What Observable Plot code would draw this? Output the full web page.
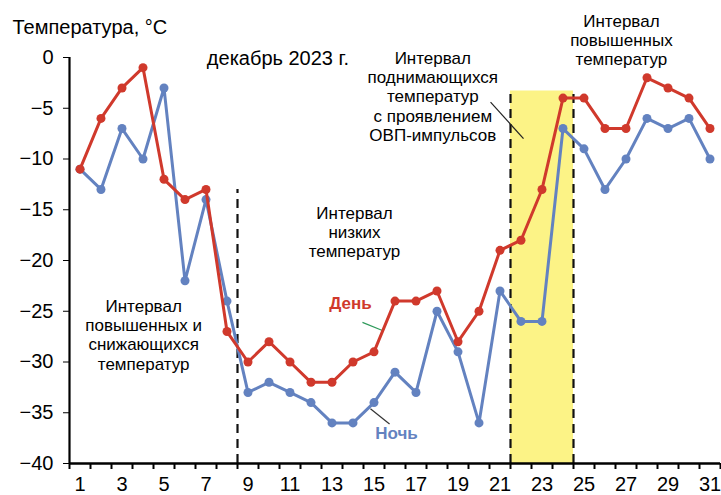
<!DOCTYPE html>
<html>
<head>
<meta charset="utf-8">
<script src="https://cdn.jsdelivr.net/npm/d3@7"></script>
<script src="https://cdn.jsdelivr.net/npm/@observablehq/plot@0.6"></script>
<style>
  html, body { margin: 0; padding: 0; background: #fff; }
  #chart svg { display: block; font-family: "Liberation Sans", Arial, sans-serif; }
</style>
</head>
<body>
<div id="chart"></div>
<script>
// Дни декабря 2023 г.
const days = d3.range(1, 32);

// Дневная температура, °C
const dayTemps = [-11, -6, -3, -1, -12, -14, -13, -27, -30, -28, -30, -32, -32, -30, -29, -24,
                  -24, -23, -28, -25, -19, -18, -13, -4, -4, -7, -7, -2, -3, -4, -7];

// Ночная температура, °C
const nightTemps = [-11, -13, -7, -10, -3, -22, -14, -24, -33, -32, -33, -34, -36, -36, -34, -31,
                    -33, -25, -29, -36, -23, -26, -26, -7, -9, -13, -10, -6, -7, -6, -10];

// Подписи осей
const xTickLabels = d3.range(1, 32, 2);
const yTicks = [0, -5, -10, -15, -20, -25, -30, -35, -40];

// Границы интервалов (между днями)
const boundaries = [
  {x: 8.5, top: -13},
  {x: 21.5, top: -3.3},
  {x: 24.5, top: -3.3}
];
const ovpBand = [{x1: 21.5, x2: 24.5, top: -3.3}];

const dayRows = days.map((d, i) => ({day: d, t: dayTemps[i]}));
const nightRows = days.map((d, i) => ({day: d, t: nightTemps[i]}));

const RED = "#d0392c";
const BLUE = "#6382c0";
const FONT = "Liberation Sans, Arial, sans-serif";

const chart = Plot.plot({
  width: 721,
  height: 495,
  marginLeft: 69,
  marginRight: 1,
  marginTop: 57,
  marginBottom: 32,
  style: {fontFamily: FONT, color: "#000", background: "#fff"},
  x: {domain: [0.5, 31.5]},
  y: {domain: [-40, 0]},
  marks: [
    // Интервал с ОВП-импульсами
    Plot.rectY(ovpBand, {x1: "x1", x2: "x2", y1: -40, y2: "top", fill: "#fcf386"}),
    // Пунктирные границы интервалов
    Plot.ruleX(boundaries, {x: "x", y1: -40, y2: "top", stroke: "#111", strokeWidth: 2.2, strokeDasharray: "9,6"}),

    // Оси
    Plot.axisY({ticks: yTicks, tickSize: 6, tickPadding: 10, fontSize: 20, label: null, stroke: "#000"}),
    Plot.axisX({ticks: d3.range(0.5, 32, 1), tickSize: 6, tickFormat: () => "", label: null, strokeWidth: 2}),
    Plot.axisX({ticks: xTickLabels, tickSize: 0, tickPadding: 13, fontSize: 20, label: null}),
    Plot.ruleX([0.5], {stroke: "#000", strokeWidth: 2.2}),
    Plot.ruleY([-40], {stroke: "#000", strokeWidth: 2.5}),

    // Выноски к подписям
    Plot.link([{x1: 14.45, y1: -26.1, x2: 15.4, y2: -26.9}], {x1: "x1", y1: "y1", x2: "x2", y2: "y2", stroke: "#2e9a5a", strokeWidth: 1.2}),
    Plot.link([{x1: 14.83, y1: -34.6, x2: 15.74, y2: -36.1}], {x1: "x1", y1: "y1", x2: "x2", y2: "y2", stroke: "#333", strokeWidth: 1.2}),
    Plot.link([{x1: 20.55, y1: -4.4, x2: 22.12, y2: -8.0}], {x1: "x1", y1: "y1", x2: "x2", y2: "y2", stroke: "#222", strokeWidth: 1.2}),

    // Ночь
    Plot.line(nightRows, {x: "day", y: "t", stroke: BLUE, strokeWidth: 3}),
    Plot.dot(nightRows, {x: "day", y: "t", fill: BLUE, r: 4.5}),
    // День
    Plot.line(dayRows, {x: "day", y: "t", stroke: RED, strokeWidth: 3}),
    Plot.dot(dayRows, {x: "day", y: "t", fill: RED, r: 4.5}),

    // Подписи рядов
    Plot.text(["День"], {x: 13.88, y: -24.2, fill: RED, fontWeight: "bold", fontSize: 17}),
    Plot.text(["Ночь"], {x: 16.07, y: -37.0, fill: BLUE, fontWeight: "bold", fontSize: 17}),

    // Подписи интервалов
    Plot.text(["Интервал\nповышенных и\nснижающихся\nтемператур"],
      {x: 4.03, y: -27.3, lineAnchor: "middle", textAnchor: "middle", fontSize: 17, lineHeight: 1.13}),
    Plot.text(["Интервал\nнизких\nтемператур"],
      {x: 14.07, y: -17.2, lineAnchor: "middle", fontSize: 17, lineHeight: 1.13}),
    Plot.text(["Интервал\nподнимающихся\nтемператур\nс проявлением\nОВП-импульсов"],
      {x: 17.8, y: 0.7, lineAnchor: "top", fontSize: 17, lineHeight: 1.13}),
    Plot.text(["Интервал\nповышенных\nтемператур"],
      {x: 26.78, y: 4.35, lineAnchor: "top", fontSize: 17, lineHeight: 1.13}),

    // Заголовки
    Plot.text(["Температура, °C"], {frameAnchor: "top-left", dx: -57, dy: -38, fontSize: 20, textAnchor: "start", lineAnchor: "top"}),
    Plot.text(["декабрь 2023 г."], {x: 7.04, y: -0.1, textAnchor: "start", lineAnchor: "middle", fontSize: 20})
  ]
});

document.getElementById("chart").append(chart);
</script>
</body>
</html>
